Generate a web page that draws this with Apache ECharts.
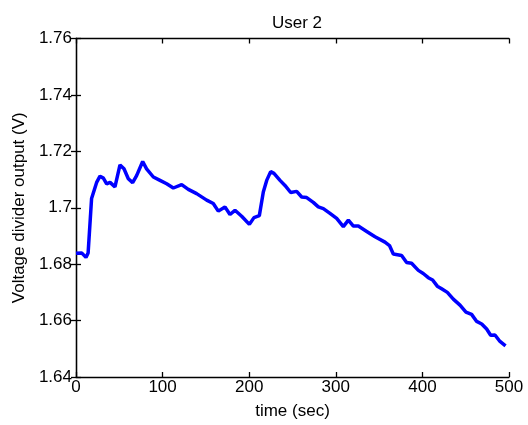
<!DOCTYPE html>
<html>
<head>
<meta charset="utf-8">
<script src="https://cdn.jsdelivr.net/npm/echarts@6/dist/echarts.min.js"></script>
<style>html,body{margin:0;padding:0;background:#fff}#c{width:528px;height:425px}</style>
</head>
<body>
<div id="c"></div>
<script>
var titleText = "User 2";
var xName = "time (sec)";
var yName = "Voltage divider output (V)";
var xTicks = [0, 100, 200, 300, 400, 500];
var yTicks = [1.64, 1.66, 1.68, 1.70, 1.72, 1.74, 1.76];
var times = [0, 6.5, 11.5, 14, 18, 24, 27.7, 31.6, 35.4, 39.3, 45, 50.8, 55.4, 60.4, 65.4, 70, 77, 81.5, 89.3, 97, 104.7, 112.4, 122, 129.7, 139.3, 150.9, 158.5, 164.3, 172, 177.8, 183.6, 191.3, 200.2, 205.5, 211.7, 216.3, 220.2, 224.8, 228.6, 235.6, 241.3, 247.9, 254.8, 260.6, 266.4, 274, 279.8, 285.6, 293.3, 301, 308.7, 314.5, 320.3, 326, 335.7, 345.3, 356.8, 362, 366.4, 376, 381.8, 387.5, 395.3, 401, 406.8, 411.8, 417.2, 422.2, 428.8, 435.7, 443.4, 450.3, 456.8, 462.7, 468.5, 474.2, 478.8, 483.8, 489.6, 496];
var volts = [1.6839, 1.6840, 1.6824, 1.6840, 1.7033, 1.7091, 1.7112, 1.7105, 1.7085, 1.7090, 1.7074, 1.7152, 1.7138, 1.7103, 1.7089, 1.7114, 1.7164, 1.7138, 1.7109, 1.7097, 1.7085, 1.7070, 1.7082, 1.7065, 1.7050, 1.7027, 1.7015, 1.6988, 1.7003, 1.6976, 1.6991, 1.6970, 1.6941, 1.6965, 1.6972, 1.7056, 1.7097, 1.7128, 1.7122, 1.7097, 1.7079, 1.7054, 1.7058, 1.7038, 1.7036, 1.7019, 1.7003, 1.6997, 1.6980, 1.6962, 1.6933, 1.6956, 1.6935, 1.6935, 1.6916, 1.6897, 1.6878, 1.6866, 1.6836, 1.6831, 1.6806, 1.6803, 1.6778, 1.6767, 1.6752, 1.6744, 1.6722, 1.6713, 1.6700, 1.6676, 1.6655, 1.6630, 1.6622, 1.6597, 1.6588, 1.6570, 1.6548, 1.6549, 1.6526, 1.6510];

var pts = times.map(function (t, i) { return [t, volts[i]]; });
var font = 'Arial, "Liberation Sans", sans-serif';
var tickStyle = { inside: true, length: 5, lineStyle: { color: '#000', width: 1.3 } };
var axLine = { show: true, lineStyle: { color: '#000', width: 1.3 } };
function fmtY(v) { return String(Number(v.toFixed(2))); }

var chart = echarts.init(document.getElementById('c'), null, { renderer: 'canvas' });
chart.setOption({
  animation: false,
  backgroundColor: '#fff',
  title: { text: titleText, left: 292, top: 10, textAlign: 'center',
    textStyle: { fontFamily: font, fontSize: 17, fontWeight: 'normal', color: '#000' } },
  grid: { left: 76, top: 38.5, right: 19, bottom: 45, containLabel: false },
  xAxis: [
    { type: 'value', min: xTicks[0], max: xTicks[xTicks.length - 1], interval: 100, position: 'bottom',
      name: xName, nameLocation: 'middle', nameGap: 26,
      nameTextStyle: { fontFamily: font, fontSize: 17, color: '#000' },
      axisLine: axLine, axisTick: tickStyle, splitLine: { show: false },
      axisLabel: { fontFamily: font, fontSize: 17, color: '#000', margin: 2 } },
    { type: 'value', min: xTicks[0], max: xTicks[xTicks.length - 1], interval: 100, position: 'top',
      axisLine: axLine, axisTick: tickStyle, splitLine: { show: false }, axisLabel: { show: false } }
  ],
  yAxis: [
    { type: 'value', min: yTicks[0], max: yTicks[yTicks.length - 1], interval: 0.02, position: 'left',
      name: yName, nameLocation: 'middle', nameGap: 45, nameRotate: 90,
      nameTextStyle: { fontFamily: font, fontSize: 17, color: '#000' },
      axisLine: axLine, axisTick: tickStyle, splitLine: { show: false },
      axisLabel: { fontFamily: font, fontSize: 17, color: '#000', margin: 4, formatter: fmtY } },
    { type: 'value', min: yTicks[0], max: yTicks[yTicks.length - 1], interval: 0.02, position: 'right',
      axisLine: axLine, axisTick: tickStyle, splitLine: { show: false }, axisLabel: { show: false } }
  ],
  series: [{
    type: 'line', data: pts, xAxisIndex: 0, yAxisIndex: 0,
    showSymbol: false, smooth: false,
    lineStyle: { color: '#0000ff', width: 3.5 }
  }]
});
</script>
</body>
</html>
